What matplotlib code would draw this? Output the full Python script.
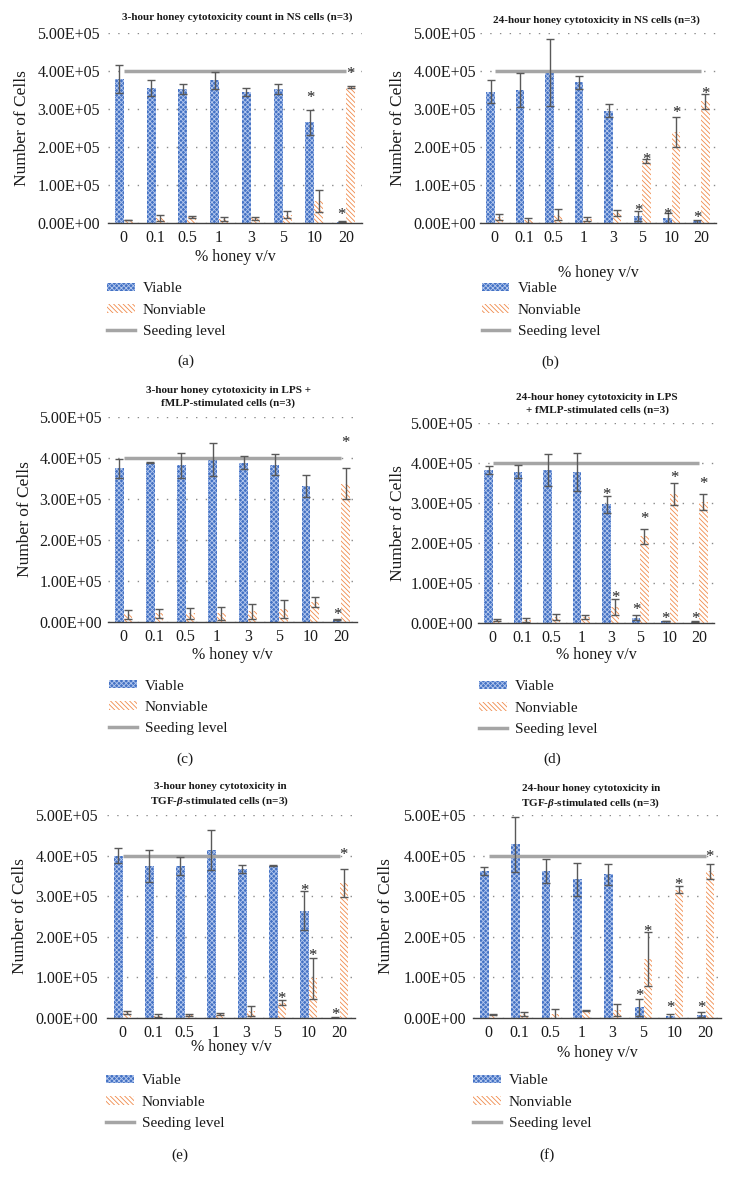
import matplotlib
matplotlib.use("Agg")
import matplotlib.pyplot as plt
import matplotlib.transforms as mtransforms
from matplotlib.patches import Patch
from matplotlib.lines import Line2D
import numpy as np

plt.rcParams['font.family'] = ['Liberation Serif', 'DejaVu Serif']
plt.rcParams['mathtext.fontset'] = 'custom'
plt.rcParams['mathtext.rm'] = 'Liberation Serif:bold'
plt.rcParams['mathtext.it'] = 'Liberation Serif:italic:bold'
plt.rcParams['hatch.linewidth'] = 0.6

# % honey v/v categories
cats = ['0', '0.1', '0.5', '1', '3', '5', '10', '20']
seeding_level = 4.0  # x 1e5 cells
SCALE = 1e5

# values below in units of 1e5 cells
# (a) 3-hour NS
viable_a = [3.79, 3.55, 3.53, 3.75, 3.45, 3.53, 2.65, 0.03]
viable_err_a = [0.37, 0.22, 0.13, 0.22, 0.10, 0.13, 0.33, 0.01]
nonviable_a = [0.08, 0.13, 0.15, 0.10, 0.12, 0.22, 0.57, 3.58]
nonviable_err_a = [0.01, 0.07, 0.03, 0.05, 0.03, 0.09, 0.29, 0.03]
stars_a = [('v', 6, 3.42), ('v', 7, 0.35), ('n', 7, 4.05)]

# (b) 24-hour NS
viable_b = [3.46, 3.51, 3.96, 3.70, 2.96, 0.18, 0.13, 0.05]
viable_err_b = [0.29, 0.45, 0.88, 0.18, 0.17, 0.14, 0.13, 0.04]
nonviable_b = [0.16, 0.07, 0.22, 0.11, 0.26, 1.63, 2.39, 3.20]
nonviable_err_b = [0.08, 0.06, 0.15, 0.05, 0.07, 0.05, 0.40, 0.20]
stars_b = [('v', 5, 0.46), ('v', 6, 0.33), ('v', 7, 0.26),
           ('n', 5, 1.80), ('n', 6, 3.03), ('n', 7, 3.53)]

# (c) 3-hour LPS + fMLP
viable_c = [3.75, 3.89, 3.82, 3.97, 3.88, 3.84, 3.31, 0.07]
viable_err_c = [0.23, 0.01, 0.30, 0.40, 0.16, 0.25, 0.27, 0.01]
nonviable_c = [0.19, 0.21, 0.21, 0.21, 0.26, 0.31, 0.49, 3.37]
nonviable_err_c = [0.11, 0.11, 0.14, 0.16, 0.19, 0.22, 0.13, 0.38]
stars_c = [('v', 7, 0.30), ('n', 7, 4.49)]

# (d) 24-hour LPS + fMLP
viable_d = [3.82, 3.78, 3.83, 3.78, 2.97, 0.13, 0.05, 0.03]
viable_err_d = [0.10, 0.16, 0.40, 0.48, 0.21, 0.06, 0.01, 0.01]
nonviable_d = [0.07, 0.07, 0.15, 0.15, 0.40, 2.17, 3.23, 3.03]
nonviable_err_d = [0.03, 0.05, 0.08, 0.05, 0.21, 0.19, 0.27, 0.20]
stars_d = [('v', 4, 3.33), ('v', 5, 0.44), ('v', 6, 0.22), ('v', 7, 0.22),
           ('n', 4, 0.75), ('n', 5, 2.72), ('n', 6, 3.75), ('n', 7, 3.61)]

# (e) 3-hour TGF-beta
viable_e = [4.00, 3.75, 3.75, 4.14, 3.67, 3.75, 2.64, 0.01]
viable_err_e = [0.18, 0.39, 0.22, 0.49, 0.10, 0.01, 0.48, 0.01]
nonviable_e = [0.14, 0.06, 0.07, 0.10, 0.18, 0.38, 0.98, 3.32]
nonviable_err_e = [0.04, 0.04, 0.02, 0.02, 0.12, 0.07, 0.50, 0.34]
stars_e = [('v', 6, 3.24), ('v', 7, 0.20), ('n', 5, 0.60), ('n', 6, 1.66), ('n', 7, 4.14)]

# (f) 24-hour TGF-beta
viable_f = [3.62, 4.28, 3.62, 3.42, 3.54, 0.27, 0.04, 0.08]
viable_err_f = [0.11, 0.68, 0.30, 0.41, 0.26, 0.21, 0.06, 0.06]
nonviable_f = [0.08, 0.10, 0.10, 0.18, 0.20, 1.45, 3.16, 3.61]
nonviable_err_f = [0.01, 0.04, 0.12, 0.01, 0.14, 0.66, 0.09, 0.19]
stars_f = [('v', 5, 0.66), ('v', 6, 0.37), ('v', 7, 0.37),
           ('n', 5, 2.25), ('n', 6, 3.39), ('n', 7, 4.10)]

titles = [
    '3-hour honey cytotoxicity count in NS cells (n=3)',
    '24-hour honey cytotoxicity in NS cells (n=3)',
    '3-hour honey cytotoxicity in LPS +\nfMLP-stimulated cells (n=3)',
    '24-hour honey cytotoxicity in LPS\n+ fMLP-stimulated cells (n=3)',
    '3-hour honey cytotoxicity in\nTGF-$\\beta$-stimulated cells (n=3)',
    '24-hour honey cytotoxicity in\nTGF-$\\beta$-stimulated cells (n=3)',
]
sublabels = ['(a)', '(b)', '(c)', '(d)', '(e)', '(f)']

panels = [
    (viable_a, viable_err_a, nonviable_a, nonviable_err_a, stars_a),
    (viable_b, viable_err_b, nonviable_b, nonviable_err_b, stars_b),
    (viable_c, viable_err_c, nonviable_c, nonviable_err_c, stars_c),
    (viable_d, viable_err_d, nonviable_d, nonviable_err_d, stars_d),
    (viable_e, viable_err_e, nonviable_e, nonviable_err_e, stars_e),
    (viable_f, viable_err_f, nonviable_f, nonviable_err_f, stars_f),
]

# pixel layout: left, right, top, bottom, title xy, ylabel x, xlabel y, legend xy, sublabel xy, ytick pad
layout = [
    dict(l=108, r=362, t=33, b=223, title=(237, 17), yl=22, xl=257, leg=(107, 287), sub=(186, 361), pad=8),
    dict(l=480, r=716, t=33, b=223, title=(596, 20), yl=398, xl=273, leg=(482, 287), sub=(550, 362), pad=4),
    dict(l=108, r=357, t=417, b=622, title=(228, 397), yl=25, xl=655, leg=(109, 684), sub=(185, 759), pad=6),
    dict(l=478, r=714, t=423, b=623, title=(597, 404), yl=398, xl=655, leg=(479, 685), sub=(552, 759), pad=5),
    dict(l=107, r=355, t=815, b=1018, title=(220, 795), yl=20, xl=1047, leg=(106, 1079), sub=(180, 1155), pad=9),
    dict(l=473, r=721, t=815, b=1018, title=(591, 797), yl=386, xl=1053, leg=(473, 1079), sub=(547, 1155), pad=7),
]

W, H = 732, 1187
fig = plt.figure(figsize=(W / 100, H / 100), dpi=100)

BLUE = '#4472C4'
BLUE_HATCH = '#B4C8EE'
ORANGE = '#F08A4B'
GRAY = '#A5A5A5'
ERR = '#595959'
VHATCH = 'xxxxxxx'
NHATCH = '\\' * 7
width = 0.28


def fx(x):
    return x / W


def fy(y):
    return 1 - y / H


for (v, ve, n, ne, stars), lay, title, sub in zip(panels, layout, titles, sublabels):
    ax = fig.add_axes([fx(lay['l']), fy(lay['b']), (lay['r'] - lay['l']) / W, (lay['b'] - lay['t']) / H])
    x = np.arange(len(cats))
    ax.bar(x - width / 2, np.array(v) * SCALE, width, facecolor=BLUE, edgecolor=BLUE_HATCH,
           hatch=VHATCH, linewidth=0, zorder=2)
    ax.bar(x + width / 2, np.array(n) * SCALE, width, facecolor='white', edgecolor=ORANGE,
           hatch=NHATCH, linewidth=0, zorder=2)
    ax.errorbar(x - width / 2, np.array(v) * SCALE, yerr=np.array(ve) * SCALE, fmt='none',
                ecolor=ERR, elinewidth=1, capsize=3, capthick=1, zorder=4)
    ax.errorbar(x + width / 2, np.array(n) * SCALE, yerr=np.array(ne) * SCALE, fmt='none',
                ecolor=ERR, elinewidth=1, capsize=3, capthick=1, zorder=4)
    ax.plot(x, [seeding_level * SCALE] * len(cats), color=GRAY, lw=2.5, zorder=3,
            solid_capstyle='butt')

    star_tr = mtransforms.offset_copy(ax.transData, fig=fig, y=-6.5, units='points')
    for series, idx, yv in stars:
        xs = idx - width / 2 if series == 'v' else idx + width / 2
        ax.text(xs, yv * SCALE, '*', ha='center', va='baseline', fontsize=12,
                color='#222222', transform=star_tr, zorder=5)

    ax.set_xlim(-0.5, len(cats) - 0.5)
    ax.set_ylim(0, 5 * SCALE)
    ax.set_yticks(np.arange(0, 6) * SCALE)
    ax.set_yticklabels(['%.2E' % t for t in np.arange(0, 6) * SCALE])
    ax.set_xticks(x)
    ax.set_xticklabels(cats)
    ax.tick_params(axis='y', length=0, pad=lay['pad'] * 0.72, labelsize=11.5, labelcolor='#1a1a1a')
    ax.tick_params(axis='x', length=0, pad=5, labelsize=11.5, labelcolor='#1a1a1a')
    for s in ['top', 'right', 'left']:
        ax.spines[s].set_visible(False)
    ax.spines['bottom'].set_color('#404040')
    ax.spines['bottom'].set_linewidth(1.0)
    ax.spines['bottom'].set_zorder(5)
    ax.yaxis.grid(True, color='#8a8a8a', linestyle=(0, (1, 6)), linewidth=1)
    ax.set_axisbelow(True)

    fig.text(fx(lay['title'][0]), fy(lay['title'][1]), title, ha='center', va='center',
             fontsize=8, fontweight='bold', linespacing=1.45, color='#1a1a1a')
    fig.text(fx(lay['yl']), fy((lay['t'] + lay['b']) / 2), 'Number of Cells', rotation=90,
             ha='center', va='center', fontsize=12.5, color='#1a1a1a')
    fig.text(fx((lay['l'] + lay['r']) / 2), fy(lay['xl']), '% honey v/v', ha='center',
             va='center', fontsize=11.5, color='#1a1a1a')
    fig.text(fx(lay['sub'][0]), fy(lay['sub'][1]), sub, ha='center', va='center',
             fontsize=11, color='#1a1a1a')

    handles = [
        Patch(facecolor=BLUE, edgecolor=BLUE_HATCH, hatch=VHATCH, linewidth=0),
        Patch(facecolor='white', edgecolor=ORANGE, hatch=NHATCH, linewidth=0),
        Line2D([0], [0], color=GRAY, lw=2.5),
    ]
    fig.legend(handles, ['Viable', 'Nonviable', 'Seeding level'], loc='upper left',
               bbox_to_anchor=(fx(lay['leg'][0]), fy(lay['leg'][1] - 4.5)),
               bbox_transform=fig.transFigure, frameon=False, fontsize=11,
               handlelength=1.8, handleheight=0.5, handletextpad=0.55,
               labelspacing=0.54, borderpad=0, borderaxespad=0, labelcolor='#1a1a1a')

fig.savefig('out.png', dpi=100)
